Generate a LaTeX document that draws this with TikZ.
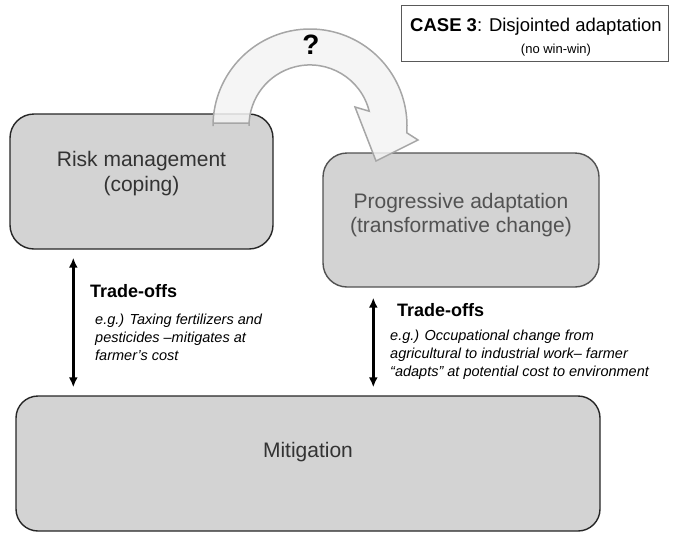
\documentclass[tikz,border=0pt]{standalone}
\usepackage{fontspec}
\setmainfont{Liberation Sans}
\usetikzlibrary{arrows.meta}

\definecolor{BoxFill}{HTML}{D3D3D3}
\definecolor{BoxLine}{HTML}{262626}
\definecolor{BoxText}{HTML}{333333}
\definecolor{BandFill}{HTML}{F3F3F3}
\definecolor{BandLine}{HTML}{A6A6A6}
\definecolor{CaseLine}{HTML}{595959}

\begin{document}
\begin{tikzpicture}[x=1pt, y=1pt,
  box/.style={draw=BoxLine, fill=BoxFill, line width=1.4pt, rounded corners=24pt, inner sep=0pt},
  boxtext/.style={align=center, text=BoxText, font=\fontsize{21}{24.5}\selectfont, inner sep=0pt},
  tradeoff/.style={line width=2.4pt, {Latex[length=10pt,width=9pt]}-{Latex[length=10pt,width=9pt]}},
  heading/.style={anchor=base west, inner sep=0pt, font=\bfseries\fontsize{18}{21}\selectfont},
  example/.style={anchor=north west, align=left, inner sep=0pt, font=\itshape\fontsize{14.5}{18}\selectfont}]

\useasboundingbox (0,0) rectangle (677,-533);

% Boxes
\node[box, minimum width=263pt, minimum height=135pt] (risk) at (141.5,-181.5) {};
\node[box, draw=BoxLine!80, minimum width=276pt, minimum height=134pt] (progressive) at (461,-220) {};
\node[box, rounded corners=22pt, minimum width=584pt, minimum height=135pt] (mitigation) at (308,-463.5) {};

\node[boxtext] (risklabel) at ([yshift=8pt]risk.center) {Risk management\\(coping)};
\node[boxtext, text=BoxText!85] (progressivelabel) at ([yshift=5pt]progressive.center) {Progressive adaptation\\(transformative change)};
\node[boxtext] (mitigationlabel) at ([yshift=11pt]mitigation.center) {Mitigation};

% Case box
\node[draw=CaseLine, line width=1pt, minimum width=267pt, minimum height=56pt] (casebox) at (534.5,-33) {};
\node[anchor=base, inner sep=0pt, font=\fontsize{18.5}{22}\selectfont] (casetitle) at (536,-31) {\textbf{CASE 3}: Disjointed adaptation};
\node[anchor=base, inner sep=0pt, font=\fontsize{13}{15}\selectfont] (casenote) at (556,-53) {(no win-win)};

% Curved arrow
\draw[draw=BandLine, fill=BandFill, fill opacity=0.85, line width=1.5pt, line join=miter]
  (213,-123) -- (213,-126) arc[start angle=180, end angle=-4, radius=97]
  -- (418,-140) -- (376,-161) -- (355,-107) -- (369.2,-111.2)
  arc[start angle=14, end angle=180, radius=61] -- (249,-123) -- cycle;
\node[inner sep=0pt, font=\bfseries\fontsize{28}{28}\selectfont] (query) at (311,-45) {?};

% Trade-offs
\coordinate (leftlink) at ([xshift=64pt]risk.south west);
\coordinate (rightlink) at ([xshift=51pt]progressive.south west);
\draw[tradeoff] ([yshift=-8pt]leftlink) -- ([yshift=8pt]leftlink |- mitigation.north);
\draw[tradeoff] ([yshift=-10pt]rightlink) -- ([yshift=8pt]rightlink |- mitigation.north);

\node[heading] (lefthead) at (90,-297) {Trade-offs};
\node[example] (leftnote) at (95,-314) {e.g.) Taxing fertilizers and\\pesticides –mitigates at\\farmer’s cost};

\node[heading] (righthead) at (397,-316) {Trade-offs};
\node[example] (rightnote) at (390,-330) {e.g.) Occupational change from\\agricultural to industrial work– farmer\\“adapts” at potential cost to environment};
\end{tikzpicture}
\end{document}
